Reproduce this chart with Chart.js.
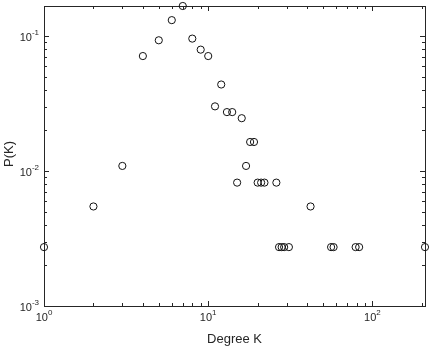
<!DOCTYPE html>
<html>
<head>
<meta charset="utf-8">
<script src="https://cdn.jsdelivr.net/npm/chart.js@4/dist/chart.umd.min.js"></script>
<style>
  html, body { margin: 0; padding: 0; background: #fff; }
  #wrap { width: 432px; height: 349px; }
</style>
</head>
<body>
<div id="wrap"><canvas id="grafica" width="432" height="349"></canvas></div>
<script>
// grado K y probabilidad P(K)
const degrees = [1, 2, 3, 4, 5, 6, 7, 8, 9, 10, 11, 12, 13, 14, 15, 16, 17, 18, 19,
  20, 21, 22, 26, 27, 28, 29, 31, 42, 56, 58, 79, 83, 209];
const probs = [0.00273, 0.00546, 0.0109, 0.0710, 0.0929, 0.131, 0.1667, 0.0956, 0.0792, 0.0710,
  0.0301, 0.0437, 0.0273, 0.0273, 0.0082, 0.0246, 0.0109, 0.0164, 0.0164,
  0.0082, 0.0082, 0.0082, 0.0082, 0.00273, 0.00273, 0.00273, 0.00273, 0.00546,
  0.00273, 0.00273, 0.00273, 0.00273, 0.00273];

const xMin = 1, xMax = 209;
const yMin = 0.001, yMax = 0.1667;
const xMajor = [1, 10, 100];
const yMajor = [0.001, 0.01, 0.1];
const xExp = ["0", "1", "2"];
const yExp = ["-3", "-2", "-1"];

const ink = "#262626";
const fuente = "Liberation Sans, Arial, Helvetica, sans-serif";

function menores(min, max) {
  const out = [];
  for (let d = Math.pow(10, Math.floor(Math.log10(min))); d <= max; d *= 10) {
    for (let m = 2; m <= 9; m++) {
      const v = m * d;
      if (v > min && v < max) out.push(v);
    }
  }
  return out;
}

// ejes estilo matlab: caja, ticks hacia dentro, etiquetas 10^n
const ejes = {
  id: "ejes",
  beforeDatasetsDraw(chart) {
    const { ctx, chartArea: a, scales: { x, y } } = chart;
    ctx.save();
    ctx.strokeStyle = ink;
    ctx.lineWidth = 1;
    ctx.strokeRect(Math.round(a.left) + 0.5, Math.round(a.top) + 0.5,
      Math.round(a.right - a.left), Math.round(a.bottom - a.top));

    ctx.beginPath();
    const tickX = (v, len) => {
      const px = Math.round(x.getPixelForValue(v)) + 0.5;
      ctx.moveTo(px, a.bottom); ctx.lineTo(px, a.bottom - len);
      ctx.moveTo(px, a.top); ctx.lineTo(px, a.top + len);
    };
    const tickY = (v, len) => {
      const py = Math.round(y.getPixelForValue(v)) + 0.5;
      ctx.moveTo(a.left, py); ctx.lineTo(a.left + len, py);
      ctx.moveTo(a.right, py); ctx.lineTo(a.right - len, py);
    };
    xMajor.forEach(v => tickX(v, 5));
    menores(xMin, xMax).forEach(v => tickX(v, 3));
    yMajor.forEach(v => tickY(v, 5));
    menores(yMin, yMax).forEach(v => tickY(v, 3));
    ctx.stroke();

    ctx.fillStyle = ink;
    ctx.textBaseline = "middle";
    const base = "11px " + fuente, sup = "8px " + fuente;

    // etiquetas del eje x
    xMajor.forEach((v, i) => {
      const px = x.getPixelForValue(v);
      ctx.font = base; const w1 = ctx.measureText("10").width;
      ctx.font = sup; const w2 = ctx.measureText(xExp[i]).width;
      const x0 = px - (w1 + w2) / 2;
      ctx.font = base; ctx.textAlign = "left";
      ctx.fillText("10", x0, a.bottom + 12);
      ctx.font = sup;
      ctx.fillText(xExp[i], x0 + w1, a.bottom + 7);
    });

    // etiquetas del eje y
    yMajor.forEach((v, i) => {
      const py = y.getPixelForValue(v);
      ctx.font = sup; const w2 = ctx.measureText(yExp[i]).width;
      const xr = a.left - 5;
      ctx.textAlign = "right";
      ctx.fillText(yExp[i], xr, py - 3);
      ctx.font = base;
      ctx.fillText("10", xr - w2, py + 2);
    });

    // títulos
    ctx.font = "13px " + fuente;
    ctx.textAlign = "center";
    ctx.textBaseline = "alphabetic";
    ctx.fillText("Degree K", (a.left + a.right) / 2, 343);
    ctx.translate(13, 154);
    ctx.rotate(-Math.PI / 2);
    ctx.fillText("P(K)", 0, 0);
    ctx.restore();
  }
};

const ctx = document.getElementById("grafica").getContext("2d");
const chart = new Chart(ctx, {
  type: "scatter",
  data: {
    datasets: [{
      data: degrees.map((k, i) => ({ x: k, y: probs[i] })),
      showLine: false,
      pointStyle: "circle",
      pointRadius: 3.6,
      pointBorderWidth: 1,
      pointBorderColor: "#111",
      pointBackgroundColor: "rgba(0,0,0,0)",
      clip: false
    }]
  },
  options: {
    responsive: false,
    animation: false,
    events: [],
    layout: { padding: { left: 44, right: 7, top: 6, bottom: 43 } },
    plugins: { legend: { display: false }, tooltip: { enabled: false } },
    scales: {
      x: { type: "logarithmic", min: xMin, max: xMax, display: false },
      y: { type: "logarithmic", min: yMin, max: yMax, display: false }
    }
  },
  plugins: [ejes]
});
</script>
</body>
</html>
